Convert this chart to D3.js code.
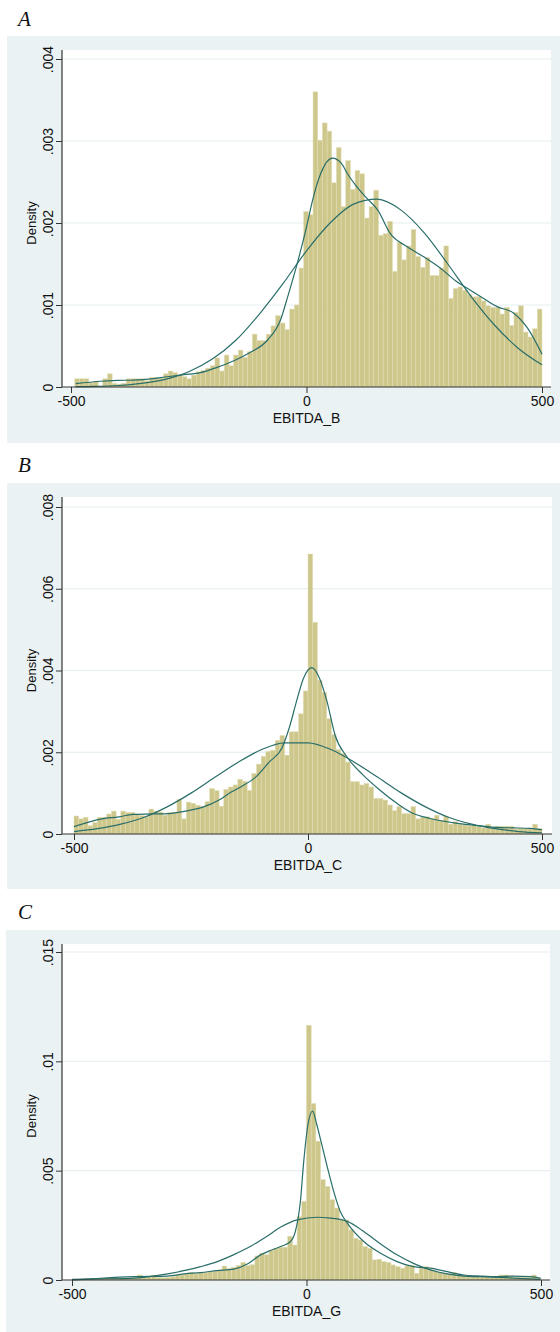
<!DOCTYPE html>
<html>
<head>
<meta charset="utf-8">
<script src="https://cdn.jsdelivr.net/npm/d3@7"></script>
<style>
  body { margin: 0; background: #fff; }
  svg text { font-family: "Liberation Sans", Arial, sans-serif; fill: #111; }
</style>
</head>
<body>
<svg id="chart" width="560" height="1332"></svg>
<script>
// Histogram heights are densities x 1000, 100 bins per panel
const xTicks = [-500, 0, 500];
const xTickLabels = ["-500", "0", "500"];

const binsA = [0.10, 0.10, 0.10, 0.05, 0.065, 0.01, 0.10, 0.16, 0.045, 0.035,
  0.045, 0.10, 0.10, 0.10, 0.10, 0.075, 0.115, 0.115, 0.105, 0.16,
  0.195, 0.175, 0.145, 0.125, 0.10, 0.145, 0.185, 0.20, 0.23, 0.26,
  0.355, 0.195, 0.39, 0.26, 0.39, 0.45, 0.36, 0.43, 0.645, 0.565,
  0.565, 0.645, 0.745, 0.87, 0.78, 0.70, 0.95, 1.0, 1.45, 2.14,
  2.10, 3.60, 3.01, 3.22, 3.12, 2.49, 2.92, 2.2, 2.76, 2.41,
  2.64, 2.60, 2.06, 2.2, 2.40, 1.85, 1.87, 2.02, 1.41, 1.76,
  1.55, 1.72, 1.92, 1.59, 1.46, 1.58, 1.36, 1.36, 1.45, 1.72,
  1.08, 1.20, 1.22, 1.18, 1.13, 1.10, 1.10, 1.05, 0.99, 0.97,
  0.97, 0.89, 0.97, 0.75, 0.91, 0.99, 0.67, 0.61, 0.71, 0.95];

const binsB = [0.44, 0.37, 0.41, 0.20, 0.28, 0.41, 0.41, 0.49, 0.56, 0.36,
  0.56, 0.53, 0.53, 0.49, 0.45, 0.42, 0.61, 0.56, 0.54, 0.46,
  0.53, 0.53, 0.85, 0.37, 0.78, 0.75, 0.70, 0.68, 0.79, 1.11,
  1.06, 0.68, 1.09, 1.15, 1.20, 1.34, 1.29, 1.07, 1.48, 1.71,
  1.90, 2.02, 2.05, 2.29, 2.41, 1.93, 2.50, 2.50, 2.94, 3.50,
  6.85, 5.18, 3.76, 3.46, 2.82, 2.43, 2.07, 1.97, 1.76, 1.28,
  1.28, 1.20, 1.24, 1.15, 0.87, 0.87, 0.83, 0.71, 0.57, 0.67,
  0.50, 0.50, 0.67, 0.37, 0.41, 0.42, 0.38, 0.46, 0.33, 0.44,
  0.24, 0.30, 0.24, 0.22, 0.20, 0.20, 0.18, 0.15, 0.24, 0.15,
  0.19, 0.19, 0.19, 0.19, 0.12, 0.14, 0.14, 0.14, 0.24, 0.14];

const binsC = [0.03, 0.03, 0.03, 0.04, 0.08, 0.08, 0.08, 0.08, 0.12, 0.08,
  0.07, 0.07, 0.08, 0.10, 0.23, 0.12, 0.15, 0.20, 0.12, 0.10,
  0.12, 0.15, 0.23, 0.25, 0.30, 0.34, 0.28, 0.33, 0.34, 0.38,
  0.40, 0.46, 0.64, 0.53, 0.58, 0.66, 0.81, 0.66, 0.70, 1.10,
  1.22, 1.15, 1.35, 1.45, 1.50, 1.50, 2.00, 1.60, 2.90, 3.60,
  11.65, 8.07, 6.35, 4.59, 4.28, 3.67, 3.29, 2.75, 2.75, 2.29,
  1.91, 1.83, 1.53, 1.45, 0.92, 0.95, 0.84, 0.80, 0.69, 0.61,
  0.54, 0.66, 0.66, 0.31, 0.54, 0.61, 0.46, 0.38, 0.34, 0.31,
  0.28, 0.35, 0.20, 0.23, 0.18, 0.15, 0.15, 0.14, 0.15, 0.13,
  0.14, 0.23, 0.23, 0.20, 0.12, 0.12, 0.12, 0.12, 0.23, 0.08];

// kernel density and normal overlays, [x, density x 1000]
const kdensA = [[-490,0.04],[-437,0.07],[-400,0.08],[-367,0.085],[-330,0.1],[-296,0.125],
  [-260,0.15],[-225,0.175],[-190,0.24],[-154,0.32],[-120,0.42],[-83,0.57],[-55,0.82],
  [-40,1.1],[-19,1.52],[0,1.95],[13,2.28],[30,2.6],[55,2.79],[75,2.72],[87,2.6],
  [110,2.42],[130,2.29],[151,2.16],[178,1.87],[214,1.71],[248,1.59],[284,1.45],
  [320,1.28],[348,1.18],[376,1.08],[405,0.98],[440,0.9],[469,0.72],[500,0.40]];
const normA = [[-490,0.004],[-450,0.007],[-400,0.018],[-350,0.044],[-300,0.093],[-250,0.186],
  [-200,0.34],[-150,0.57],[-100,0.89],[-50,1.26],[0,1.66],[50,2.0],[100,2.23],
  [150,2.29],[200,2.16],[250,1.88],[300,1.50],[350,1.10],[400,0.75],[450,0.47],[500,0.27]];

const kdensB = [[-500,0.18],[-440,0.37],[-404,0.42],[-374,0.48],[-333,0.49],[-297,0.5],
  [-262,0.56],[-226,0.65],[-190,0.83],[-165,1.02],[-141,1.17],[-113,1.38],[-83,1.76],
  [-56,2.1],[-40,2.6],[-24,3.27],[-10,3.8],[8,4.07],[25,3.8],[40,3.27],[58,2.41],
  [83,1.89],[118,1.44],[154,1.07],[190,0.75],[225,0.5],[261,0.38],[297,0.3],
  [332,0.24],[368,0.2],[404,0.16],[439,0.15],[475,0.14],[500,0.1]];
const normB = [[-500,0.06],[-450,0.13],[-400,0.24],[-350,0.41],[-300,0.67],[-250,1.0],
  [-200,1.38],[-150,1.75],[-100,2.06],[-50,2.23],[0,2.23],[50,2.06],[100,1.75],
  [150,1.38],[200,1.0],[250,0.67],[300,0.41],[350,0.24],[400,0.13],[450,0.06],[500,0.03]];

const kdensC = [[-500,0.0],[-439,0.08],[-368,0.15],[-297,0.18],[-260,0.28],[-226,0.34],
  [-190,0.43],[-155,0.5],[-125,0.74],[-98,1.15],[-77,1.35],[-55,1.53],[-34,1.76],
  [-24,2.2],[-13,3.6],[-6,5.4],[3,7.1],[13,7.72],[22,7.1],[30,6.42],[44,5.2],
  [58,4.05],[72,3.13],[87,2.6],[122,1.76],[158,1.22],[193,0.84],[228,0.61],
  [264,0.54],[300,0.38],[335,0.23],[370,0.18],[406,0.15],[441,0.18],[477,0.15],[500,0.08]];
const normC = [[-500,0.03],[-440,0.05],[-367,0.09],[-296,0.28],[-254,0.46],[-226,0.61],
  [-190,0.84],[-156,1.15],[-120,1.53],[-85,1.99],[-55,2.42],[-20,2.75],[23,2.87],
  [51,2.83],[87,2.68],[122,2.22],[158,1.65],[193,1.15],[228,0.76],[264,0.46],
  [300,0.28],[335,0.18],[370,0.15],[441,0.09],[498,0.03]];

const yTicksA = [0, 1, 2, 3, 4];
const yLabelsA = ["0", ".001", ".002", ".003", ".004"];
const yTicksB = [0, 2, 4, 6, 8];
const yLabelsB = ["0", ".002", ".004", ".006", ".008"];
const yTicksC = [0, 5, 10, 15];
const yLabelsC = ["0", ".005", ".01", ".015"];

const panels = [
  { label: "A", labelY: 26, bg: [7, 36, 553, 407], plot: [62, 50, 551, 387],
    xRange: [71, 542], yRange: [387, 59], bins: binsA, binStart: -492, binWidth: 9.92,
    kdens: kdensA, norm: normA, yTicks: yTicksA, yLabels: yLabelsA, title: "EBITDA_B" },
  { label: "B", labelY: 472, bg: [7, 483, 553, 406], plot: [62, 497, 552, 834],
    xRange: [74, 542], yRange: [834, 507], bins: binsB, binStart: -500, binWidth: 10,
    kdens: kdensB, norm: normB, yTicks: yTicksB, yLabels: yLabelsB, title: "EBITDA_C" },
  { label: "C", labelY: 919, bg: [6, 930, 554, 402], plot: [62, 944, 550, 1280],
    xRange: [72, 541], yRange: [1280, 952], bins: binsC, binStart: -500, binWidth: 10,
    kdens: kdensC, norm: normC, yTicks: yTicksC, yLabels: yLabelsC, title: "EBITDA_G" }
];

const svg = d3.select("#chart");

function drawPanel(p) {
  const g = svg.append("g");
  const [px0, py0, px1, py1] = p.plot;

  g.append("text")
    .attr("x", 18).attr("y", p.labelY)
    .style("font-family", "'Liberation Serif', 'Times New Roman', serif")
    .style("font-style", "italic")
    .style("font-size", "21px")
    .text(p.label);

  g.append("rect")
    .attr("x", p.bg[0]).attr("y", p.bg[1])
    .attr("width", p.bg[2]).attr("height", p.bg[3])
    .attr("fill", "#eaf2f3");

  g.append("rect")
    .attr("x", px0).attr("y", py0)
    .attr("width", px1 - px0).attr("height", py1 - py0)
    .attr("fill", "#fff");

  const x = d3.scaleLinear().domain([-500, 500]).range(p.xRange);
  const y = d3.scaleLinear().domain([0, p.yTicks[p.yTicks.length - 1]]).range(p.yRange);

  // grid lines
  g.append("g").selectAll("line")
    .data(p.yTicks.filter(t => t > 0))
    .join("line")
    .attr("x1", px0).attr("x2", px1)
    .attr("y1", d => y(d)).attr("y2", d => y(d))
    .attr("stroke", "#e4edef").attr("stroke-width", 1);

  // histogram bars
  g.append("g").selectAll("rect")
    .data(p.bins)
    .join("rect")
    .attr("x", (d, i) => x(p.binStart + i * p.binWidth))
    .attr("width", (d, i) => x(p.binStart + (i + 1) * p.binWidth) - x(p.binStart + i * p.binWidth))
    .attr("y", d => y(d))
    .attr("height", d => y(0) - y(d))
    .attr("fill", "#cec78c")
    .attr("stroke", "#e2ddb4")
    .attr("stroke-width", 0.5);

  const line = d3.line()
    .x(d => x(d[0]))
    .y(d => y(d[1]))
    .curve(d3.curveMonotoneX);

  [p.norm, p.kdens].forEach(s => {
    g.append("path")
      .datum(s)
      .attr("d", line)
      .attr("fill", "none")
      .attr("stroke", "#2a6e69")
      .attr("stroke-width", 1.2);
  });

  // y axis
  const yAxis = g.append("g")
    .attr("transform", `translate(${px0},0)`)
    .call(d3.axisLeft(y).tickValues(p.yTicks)
      .tickFormat((d, i) => p.yLabels[i]).tickSize(6).tickSizeOuter(0));
  yAxis.select(".domain").remove();
  yAxis.selectAll(".tick line").attr("stroke", "#333");
  yAxis.selectAll(".tick text")
    .attr("x", null).attr("dy", null)
    .attr("text-anchor", "middle")
    .attr("transform", "translate(-9,0) rotate(-90)")
    .style("font-size", "14px");
  g.append("line")
    .attr("x1", px0).attr("x2", px0).attr("y1", py0).attr("y2", py1)
    .attr("stroke", "#333").attr("stroke-width", 1.2);

  // x axis
  const xAxis = g.append("g")
    .attr("transform", `translate(0,${py1})`)
    .call(d3.axisBottom(x).tickValues(xTicks)
      .tickFormat((d, i) => xTickLabels[i]).tickSize(6).tickSizeOuter(0));
  xAxis.select(".domain").remove();
  xAxis.selectAll(".tick line").attr("stroke", "#333");
  xAxis.selectAll(".tick text")
    .attr("y", 9)
    .style("font-size", "14px");
  g.append("line")
    .attr("x1", px0).attr("x2", px1).attr("y1", py1).attr("y2", py1)
    .attr("stroke", "#333").attr("stroke-width", 1.2);

  // axis titles
  g.append("text")
    .attr("transform", `translate(36,${(p.yRange[0] + p.yRange[1]) / 2}) rotate(-90)`)
    .attr("text-anchor", "middle")
    .style("font-size", "13px")
    .text("Density");

  g.append("text")
    .attr("x", (p.xRange[0] + p.xRange[1]) / 2)
    .attr("y", py1 + 36)
    .attr("text-anchor", "middle")
    .style("font-size", "14px")
    .text(p.title);
}

panels.forEach(drawPanel);
</script>
</body>
</html>
